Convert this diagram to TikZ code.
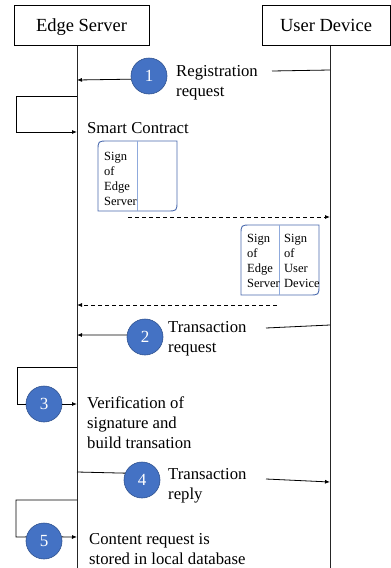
\documentclass[tikz,border=0pt]{standalone}
\usepackage{fontspec}
\setmainfont{Liberation Serif}
\newfontfamily\timesfont{Liberation Serif}
\usetikzlibrary{arrows.meta,calc}
\definecolor{stepblue}{HTML}{4472C4}
\definecolor{stepedge}{HTML}{2F528F}
\definecolor{signblue}{HTML}{4A6AAE}
\definecolor{signlight}{HTML}{8FAADC}

\tikzset{
  actor/.style={draw, line width=0.8pt, minimum width=135pt, minimum height=40pt, inner sep=0pt, text depth=0pt, font=\timesfont\fontsize{18.5}{22}\selectfont},
  lifeline/.style={line width=0.8pt, black!85},
  plain/.style={line width=0.8pt},
  msg/.style={line width=0.8pt, -{Latex[length=5pt,width=4pt]}},
  dashmsg/.style={msg, dash pattern=on 4pt off 3pt},
  stepnum/.style={circle, fill=stepblue, draw=stepedge, line width=0.6pt, minimum size=36pt, inner sep=0pt, text=white, font=\timesfont\fontsize{17}{20}\selectfont},
  msgtext/.style={anchor=north west, inner sep=0pt, align=left, font=\timesfont\fontsize{16.7}{20}\selectfont},
  signtext/.style={anchor=north west, inner sep=0pt, align=left, font=\timesfont\fontsize{12.5}{15}\selectfont},
  signbox/.style={draw=signblue, line width=0.9pt},
  signdiv/.style={draw=signlight, line width=0.9pt},
}

\begin{document}
\begin{tikzpicture}[x=1pt,y=-1pt]
  \useasboundingbox (0,0) rectangle (391,568);

  % Draw actors.
  \node[actor] (es) at (81.5,25.5) {Edge Server};
  \node[actor, minimum width=128pt] (ud) at (326,25.5) {User Device};

  % Draw lifelines.
  \coordinate (es top) at (77,45.5);
  \coordinate (es bot) at (77,568);
  \coordinate (ud top) at (330,45.5);
  \coordinate (ud bot) at (330,568);
  \foreach \a in {es,ud} {
    \draw[lifeline] (\a\space top) -- (\a\space bot);
  }

  % Step 1: registration request.
  \node[stepnum] (n1) at (149,76) {1};
  \node[msgtext] (t1) at (176,65) {Registration\\request};
  \coordinate (m1a) at (330,70);
  \coordinate (m1b) at (272,71);
  \coordinate (m1c) at (77,80);
  \draw[plain] (m1a) -- (m1b);
  \draw[msg] (n1.190) -- (m1c);

  % Smart contract loop.
  \coordinate (s1a) at (77,96);
  \coordinate (s1b) at (77,132);
  \draw[msg] (s1a) -- (16,96) -- (16,132) -- (s1b);
  \node[msgtext] (sc) at (87,122) {Smart Contract};

  % Signed by edge server.
  \draw[signbox] (98,211) -- (98,151) .. controls (98,141) .. (108,141) -- (177,141)
    -- (177,201) .. controls (177,211) .. (167,211) -- cycle;
  \draw[signdiv] (137,141) -- (137,211);
  \node[signtext] (sg1) at (104,152) {Sign\\of\\Edge\\Server};

  \coordinate (d1a) at (128,217);
  \coordinate (d1b) at (330,217);
  \draw[dashmsg] (d1a) -- (d1b);

  % Signed by both.
  \draw[signbox] (241,295) -- (241,235) .. controls (241,225) .. (251,225) -- (319,225)
    -- (319,285) .. controls (319,295) .. (309,295) -- cycle;
  \draw[signdiv] (279,225) -- (279,295);
  \node[signtext] (sg2) at (247,234) {Sign\\of\\Edge\\Server};
  \node[signtext] (sg3) at (284,234) {Sign\\of\\User\\Device};

  \coordinate (d2a) at (277,305);
  \coordinate (d2b) at (77,305);
  \draw[dashmsg] (d2a) -- (d2b);

  % Step 2: transaction request.
  \node[stepnum] (n2) at (145,337) {2};
  \node[msgtext] (t2) at (168,321) {Transaction\\request};
  \coordinate (m2a) at (330,325);
  \coordinate (m2b) at (266,328);
  \coordinate (m2c) at (77,335);
  \draw[plain] (m2a) -- (m2b);
  \draw[msg] (n2.174) -- (m2c);

  % Step 3: verification loop.
  \node[stepnum] (n3) at (44,404) {3};
  \coordinate (s3a) at (77,367);
  \coordinate (s3b) at (77,404);
  \draw[plain] (s3a) -- (17,367) -- (17,404) -- (n3.west);
  \draw[msg] (n3.east) -- (s3b);
  \node[msgtext] (t3) at (87,397) {Verification of\\signature and\\build transation};

  % Step 4: transaction reply.
  \node[stepnum] (n4) at (142,480) {4};
  \node[msgtext] (t4) at (168,468) {Transaction\\reply};
  \coordinate (m4a) at (77,472);
  \coordinate (m4b) at (266,479);
  \coordinate (m4c) at (330,482);
  \draw[plain] (m4a) -- (n4.158);
  \draw[msg] (m4b) -- (m4c);

  % Step 5: store loop.
  \node[stepnum] (n5) at (44,541) {5};
  \coordinate (s5a) at (77,500);
  \coordinate (s5b) at (77,537);
  \draw[plain] (s5a) -- (16,500) -- (16,537) -- (n5.167);
  \draw[msg] (n5.13) -- (s5b);
  \node[msgtext] (t5) at (89,533) {Content request is\\stored in local database};

\end{tikzpicture}
\end{document}
